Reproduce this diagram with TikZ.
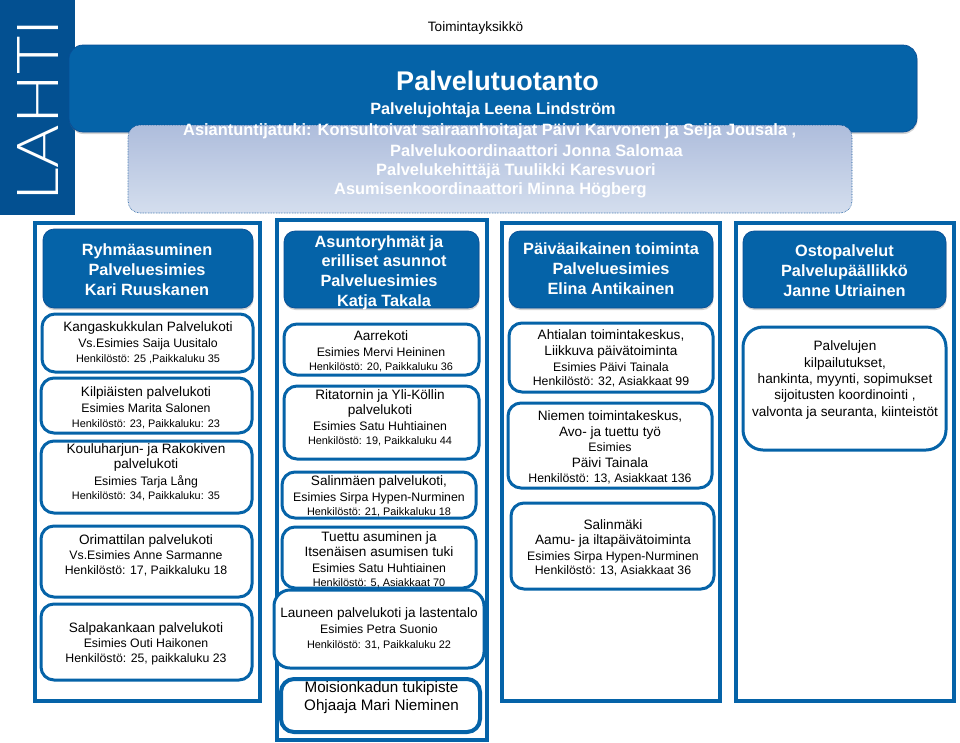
\documentclass[tikz,border=0pt]{standalone}
\usepackage{fontspec}
\setmainfont{Liberation Sans}
\newfontfamily\logofont{Lato Light}
\usetikzlibrary{shadows}
\definecolor{lahtiblue}{RGB}{3,80,145}
\definecolor{headblue}{RGB}{5,99,168}
\definecolor{edgeblue}{RGB}{8,78,150}
\definecolor{stafftop}{RGB}{174,189,220}
\definecolor{staffbottom}{RGB}{212,222,238}
\def\nm{\fontsize{13.6}{15.6}\selectfont}
\def\es{\fontsize{12.3}{15.6}\selectfont}
\def\st{\fontsize{10.9}{15.6}\selectfont}
\def\sb{\fontsize{12.3}{15.6}\selectfont}
\tikzset{
	framebox/.style={draw=headblue, line width=4pt, fill=white, rectangle},
	headbox/.style={draw=edgeblue, line width=0.7pt, fill=headblue, rectangle, rounded corners=11pt,
		drop shadow={shadow xshift=0.5pt, shadow yshift=-2pt, opacity=0.35}},
	unitbox/.style={draw=headblue, line width=3pt, fill=white, rectangle, rounded corners=13pt},
	headtext/.style={align=center, inner sep=0pt, text=white, font=\fontsize{16.3}{19.8}\selectfont\bfseries},
	unittext/.style={align=center, inner sep=0pt, text=black, font=\nm},
	staffline/.style={anchor=west, inner sep=0pt, text=white, font=\fontsize{16.4}{19}\selectfont\bfseries}
}
\begin{document}
\begin{tikzpicture}[x=1pt, y=-1pt]
	\useasboundingbox (0,0) rectangle (960,742);
	% logo
	\node[rectangle, fill=lahtiblue, minimum width=75pt, minimum height=215pt, inner sep=0pt] (logoband) at (37.5,107.5) {};
	\node[rotate=90, inner sep=0pt, text=white] (logo) at (37.5,110.5) {\resizebox{182pt}{41pt}{\logofont LAHTI}};
	\node[] (unit) at (475.5,28) {\fontsize{13.6}{16}\selectfont Toimintayksikkö};
	% top boxes
	\node[headbox, rounded corners=14pt, minimum width=848pt, minimum height=87pt] (prod) at (493,88.5) {};
	\node[rectangle, rounded corners=12pt, draw=edgeblue, densely dotted, line width=0.6pt, top color=stafftop, bottom color=staffbottom,
		minimum width=724pt, minimum height=88pt] (staff) at (490,169) {};
	\node[align=center, inner sep=0pt, text=white, font=\fontsize{27}{30}\selectfont\bfseries] (prodname) at (497.5,81) {Palvelutuotanto};
	\node[headtext] (prodlead) at (493,110) {Palvelujohtaja Leena Lindström};
	\node[staffline] (staff1) at (183,131) {Asiantuntijatuki: Konsultoivat sairaanhoitajat Päivi Karvonen ja Seija Jousala ,};
	\node[staffline] (staff2) at (390,151) {Palvelukoordinaattori Jonna Salomaa};
	\node[staffline] (staff3) at (376,171) {Palvelukehittäjä Tuulikki Karesvuori};
	\node[staffline] (staff4) at (334,190.5) {Asumisenkoordinaattori Minna Högberg};
	% columns
	\node[framebox, minimum width=225pt, minimum height=478pt] (col1) at (147.75,462) {};
	\node[framebox, minimum width=210pt, minimum height=520pt] (col2) at (381.5,479.5) {};
	\node[framebox, minimum width=218pt, minimum height=478pt] (col3) at (611,462) {};
	\node[framebox, minimum width=218pt, minimum height=478pt] (col4) at (845,462) {};
	% column heads
	\node[headbox, minimum width=210pt, minimum height=79pt] (ryhma) at (148,268.5) {};
	\node[headbox, minimum width=195pt, minimum height=77pt] (asunto) at (381.5,269.5) {};
	\node[headbox, minimum width=204pt, minimum height=77pt] (paiva) at (611,269.5) {};
	\node[headbox, minimum width=203pt, minimum height=77pt] (osto) at (844.5,269.5) {};
	\node[headtext] (ryhmatext) at (147,269.5) {Ryhmäasuminen\\Palveluesimies\\Kari Ruuskanen};
	\node[headtext] (asuntotext) at (379,272.5) {Asuntoryhmät ja\\\hspace*{10pt}erilliset asunnot\\Palveluesimies\\\hspace*{10pt}Katja Takala};
	\node[headtext] (paivatext) at (611,268.5) {Päiväaikainen toiminta\\Palveluesimies\\Elina Antikainen};
	\node[headtext] (ostotext) at (844.5,270.5) {Ostopalvelut\\Palvelupäällikkö\\Janne Utriainen};
	% first column
	\node[unitbox, minimum width=211pt, minimum height=58pt] (kanga) at (147.5,343) {};
	\node[unitbox, minimum width=211pt, minimum height=55pt] (kilpi) at (146.5,405.5) {};
	\node[unitbox, minimum width=211pt, minimum height=72pt] (koulu) at (146.5,477) {};
	\node[unitbox, minimum width=211pt, minimum height=71pt] (orima) at (146.5,561.5) {};
	\node[unitbox, minimum width=211pt, minimum height=76pt] (salpa) at (146.5,642) {};
	\node[unittext] (kangatext) at (148,342.75) {Kangaskukkulan Palvelukoti\\\es Vs.Esimies Saija Uusitalo\\[-1pt]\st Henkilöstö: 25 ,Paikkaluku 35};
	\node[unittext] (kilpitext) at (146,407.75) {Kilpiäisten palvelukoti\\\es Esimies Marita Salonen\\[-1pt]\st Henkilöstö: 23, Paikkaluku: 23};
	\node[unittext] (koulutext) at (146,472.25) {Kouluharjun- ja Rakokiven\\palvelukoti\\[1pt]\es Esimies Tarja Lång\\[-1pt]\st Henkilöstö: 34, Paikkaluku: 35};
	\node[unittext] (orimatext) at (146,555.25) {Orimattilan palvelukoti\\\es Vs.Esimies Anne Sarmanne\\[-1pt]\sb Henkilöstö: 17, Paikkaluku 18};
	\node[unittext] (salpatext) at (146,643.75) {Salpakankaan palvelukoti\\\es Esimies Outi Haikonen\\[-1pt]\sb Henkilöstö: 25, paikkaluku 23};
	% second column
	\node[unitbox, minimum width=195pt, minimum height=51pt] (aarre) at (381.5,349.5) {};
	\node[unitbox, minimum width=195pt, minimum height=73pt] (rita) at (381.5,422.5) {};
	\node[unitbox, minimum width=194pt, minimum height=46pt] (salin) at (379,495) {};
	\node[unitbox, minimum width=194pt, minimum height=61pt] (tuettu) at (379,557.5) {};
	\node[unitbox, rounded corners=16pt, minimum width=210pt, minimum height=78pt] (laune) at (379,629) {};
	\node[unitbox, line width=4pt, minimum width=199pt, minimum height=53pt] (moisio) at (380.5,705.5) {};
	\node[unittext] (aarretext) at (381,351.5) {Aarrekoti\\\es Esimies Mervi Heininen\\[-1pt]\st Henkilöstö: 20, Paikkaluku 36};
	\node[unittext] (ritatext) at (380,417.75) {Ritatornin ja Yli-Köllin\\palvelukoti\\\es Esimies Satu Huhtiainen\\[-1pt]\st Henkilöstö: 19, Paikkaluku 44};
	\node[unittext] (salintext) at (379,496.5) {Salinmäen palvelukoti,\\\es Esimies Sirpa Hypen-Nurminen\\[-1pt]\st Henkilöstö: 21, Paikkaluku 18};
	\node[unittext] (tuettutext) at (379,559.75) {Tuettu asuminen ja\\Itsenäisen asumisen tuki\\\es Esimies Satu Huhtiainen\\[-1pt]\st Henkilöstö: 5, Asiakkaat 70};
	\node[unittext] (launetext) at (379,628.75) {Launeen palvelukoti ja lastentalo\\\es Esimies Petra Suonio\\[-1pt]\st Henkilöstö: 31, Paikkaluku 22};
	\node[unittext, font=\fontsize{15.2}{18}\selectfont] (moisiotext) at (381.5,697.5) {Moisionkadun tukipiste\\Ohjaaja Mari Nieminen};
	% third column
	\node[unitbox, minimum width=204pt, minimum height=69pt] (ahti) at (611,357.5) {};
	\node[unitbox, minimum width=204pt, minimum height=85pt] (niemi) at (610,445.5) {};
	\node[unitbox, minimum width=203pt, minimum height=86pt] (salmaki) at (612.5,546) {};
	\node[unittext] (ahtitext) at (611,358.75) {Ahtialan toimintakeskus,\\Liikkuva päivätoiminta\\\es Esimies Päivi Tainala\\[-1pt]\sb Henkilöstö: 32, Asiakkaat 99};
	\node[unittext] (niemitext) at (610,447.25) {Niemen toimintakeskus,\\Avo- ja tuettu työ\\\es Esimies\\Päivi Tainala\\[-1pt]\sb Henkilöstö: 13, Asiakkaat 136};
	\node[unittext] (salmakitext) at (613,547.75) {Salinmäki\\Aamu- ja iltapäivätoiminta\\\es Esimies Sirpa Hypen-Nurminen\\[-1pt]\sb Henkilöstö: 13, Asiakkaat 36};
	% fourth column
	\node[unitbox, rounded corners=20pt, minimum width=203pt, minimum height=123pt] (kilpa) at (844.5,388.5) {};
	\node[unittext, font=\fontsize{13.6}{16.4}\selectfont] (kilpatext) at (845,380) {Palvelujen\\kilpailutukset,\\hankinta, myynti, sopimukset\\sijoitusten koordinointi ,\\valvonta ja seuranta, kiinteistöt};
\end{tikzpicture}
\end{document}
